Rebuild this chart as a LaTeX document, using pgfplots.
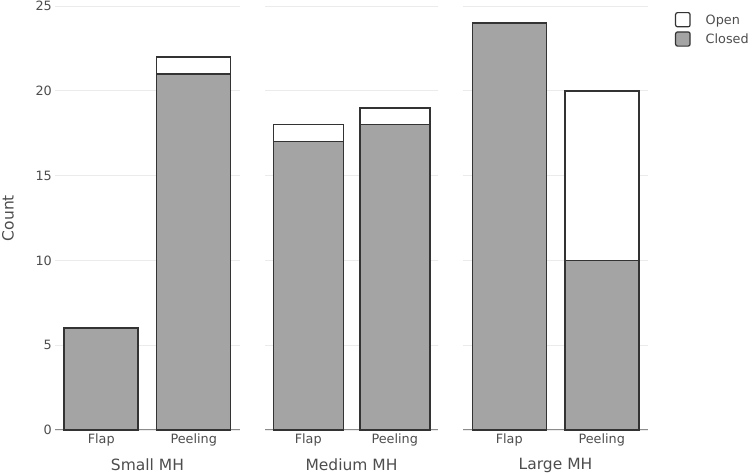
\documentclass[border=0pt]{standalone}
\usepackage{fontspec}
\setmainfont{DejaVu Sans}
\usepackage{pgfplots}
\pgfplotsset{compat=1.18}
\definecolor{barfill}{HTML}{A5A4A4}
\definecolor{barline}{HTML}{333333}
\definecolor{txt}{HTML}{4D4D4D}
\definecolor{gridc}{HTML}{EBEBEB}
\definecolor{axisc}{HTML}{8C8C8C}

\pgfplotsset{
  panel/.style={
    scale only axis, height=424pt,
    ymin=0, ymax=25, xmin=-0.5, xmax=1.5,
    ybar stacked, anchor=south west, clip=false,
    xtick={0,1}, xticklabels={Flap,Peeling},
    ytick={0,5,...,25},
    ymajorgrids, major grid style={gridc, line width=0.9pt},
    axis lines*=left,
    y axis line style={draw=none},
    x axis line style={axisc, line width=1pt, -},
    tick style={draw=none}, major tick length=0pt,
    tick label style={font=\fontsize{12.8}{14}\selectfont, text=txt},
    /pgf/number format/assume math mode=true,
    xticklabel style={anchor=north, inner sep=0pt, yshift=-4pt},
    yticklabel style={anchor=east, inner sep=0pt, xshift=-3pt},
    every axis x label/.style={at={(axis description cs:0.5,0)}, anchor=north,
      inner sep=0pt, yshift=-28.5pt, font=\fontsize{15.5}{17}\selectfont, text=txt},
  },
  closedbar/.style={fill=barfill, draw=barline, line width=1.5pt,
    legend image code/.code={\draw[fill=barfill,draw=barline,line width=1.2pt,rounded corners=2pt]
      (0pt,-5.85pt) rectangle (14.5pt,8.35pt);}},
  openbar/.style={fill=white, draw=barline, line width=1.5pt,
    legend image code/.code={\draw[fill=white,draw=barline,line width=1.2pt,rounded corners=2pt]
      (0pt,-5.85pt) rectangle (14.5pt,8.35pt);}},
}

\begin{document}
\begin{tikzpicture}
\useasboundingbox (0,0) rectangle (750pt,476pt);

% Small MH
\begin{axis}[panel, at={(55pt,46pt)}, width=185pt, bar width=74pt,
  xlabel={Small MH}, ylabel={Count},
  every axis y label/.style={at={(axis description cs:0,0.5)}, xshift=-47pt, rotate=90,
    anchor=center, inner sep=0pt, font=\fontsize{15.5}{17}\selectfont, text=txt}]
\addplot[closedbar] coordinates {(0,6) (1,21)};
\addplot[openbar] coordinates {(0,0) (1,1)};
\end{axis}

% Medium MH
\begin{axis}[panel, at={(265pt,46pt)}, width=173pt, bar width=70pt,
  xlabel={Medium MH}, yticklabels={}]
\addplot[closedbar] coordinates {(0,17) (1,18)};
\addplot[openbar] coordinates {(0,1) (1,1)};
\end{axis}

% Large MH
\begin{axis}[panel, at={(463pt,46pt)}, width=185pt, bar width=74pt,
  xlabel={Large MH}, yticklabels={},
  reverse legend,
  legend style={at={(axis description cs:1.1459,0.9858)}, anchor=north west,
    draw=none, fill=none, inner sep=0pt, outer sep=0pt,
    row sep=3.9pt, column sep=15pt,
    nodes={inner sep=0pt, text height=9.7pt, text depth=3pt,
      font=\fontsize{12.8}{14}\selectfont, text=txt}},
  legend cell align=left]
\addplot[closedbar] coordinates {(0,24) (1,10)};
\addlegendentry{Closed}
\addplot[openbar] coordinates {(0,0) (1,10)};
\addlegendentry{Open}
\end{axis}
\end{tikzpicture}
\end{document}
